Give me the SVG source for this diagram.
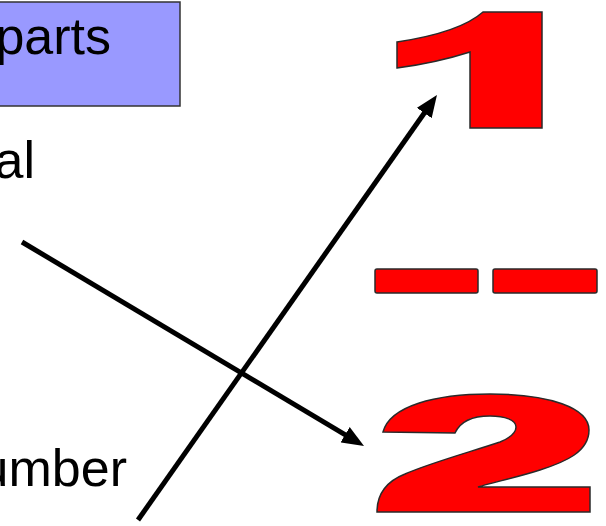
<svg xmlns="http://www.w3.org/2000/svg" width="606" height="526" viewBox="0 0 606 526">
<style>
  .lbl { font-family: "Liberation Sans", Arial, sans-serif; font-size: 52px; fill: #000; }
  .digit { fill: #FF0000; stroke: #2a2a2a; stroke-width: 1.5; stroke-linejoin: miter; }
  .conn { fill: none; stroke: #000; stroke-width: 5; }
</style>
<defs>
  <marker id="ah" markerUnits="userSpaceOnUse" viewBox="0 0 22 18" markerWidth="22" markerHeight="18" refX="12" refY="9" orient="auto">
    <path d="M0,0 L22,9 L0,18 Z" fill="#000"/>
  </marker>
</defs>
<rect width="606" height="526" fill="#fff"/>
<g id="title-box">
  <rect x="-10" y="2" width="190" height="104" fill="#9999FF" stroke="#333" stroke-width="1.5"/>
  <text class="lbl" x="111" y="54" text-anchor="end">parts</text>
</g>
<g id="label-al">
  <text class="lbl" x="35" y="178" text-anchor="end">al</text>
</g>
<g id="label-umber">
  <text class="lbl" x="127" y="486" text-anchor="end">umber</text>
</g>
<g id="digit-1">
  <path class="digit" d="M397,42 C430,37 465,28 483,12 L542,12 L542,128 L470,128 L470,52 C445,60 420,65 397,68 Z"/>
</g>
<g id="fraction-bar">
  <rect class="digit" x="375" y="269" width="103" height="24" rx="2"/>
  <rect class="digit" x="493" y="269" width="104" height="24" rx="2"/>
</g>
<g id="digit-2">
  <path class="digit" d="M383,432 C390,406 435,394 490,394 C550,394 589,408 589,430 C589,452 565,462 540,470 C515,478 490,483 478,487 L590,487 L590,512 L377,512 C377,495 385,482 405,474 C430,463 470,452 500,442 C512,437 516,432 516,427 C516,420 505,416 490,416 C470,416 460,422 455,433 Z"/>
</g>
<g id="connectors">
  <line class="conn" x1="138" y1="520" x2="431.2" y2="103.2" marker-end="url(#ah)"/>
  <line class="conn" x1="22" y1="242" x2="355.4" y2="440.9" marker-end="url(#ah)"/>
</g>
</svg>
